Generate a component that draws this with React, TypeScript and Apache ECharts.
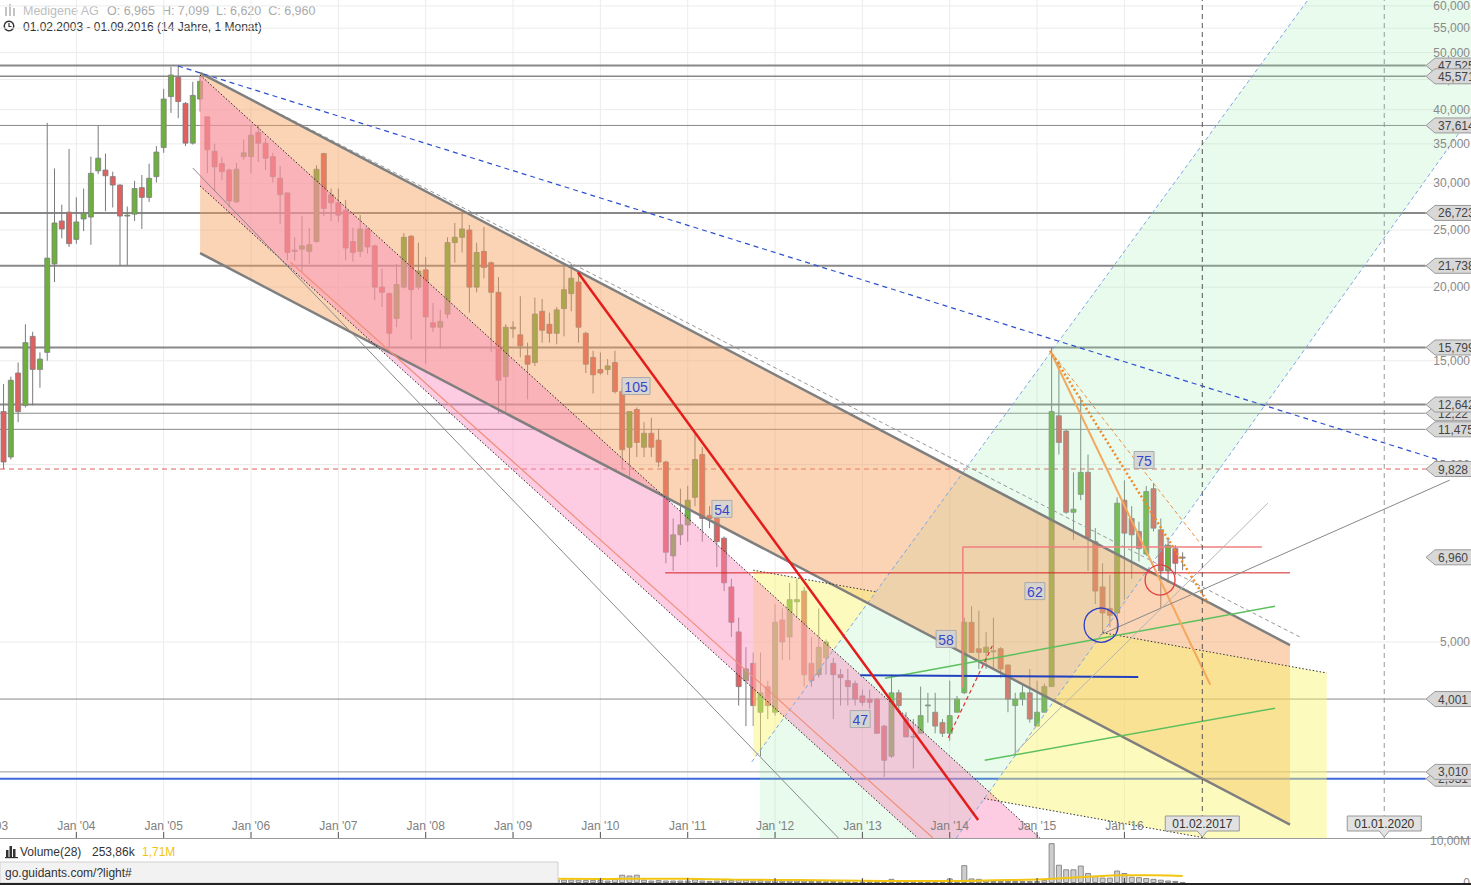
import React, { useEffect, useRef } from "react";
import * as echarts from "echarts";

const FONT = "'Liberation Sans', Arial, Helvetica, sans-serif";

// ---------- axis ranges (x = month index, Jan 2003 = 0) ----------
const X_MIN = 1.511;
const X_MAX = 203.62;
const P_MIN = 2.325;
const P_MAX = 61.4;
const VOL_MAX = 10.36;

// ---------- monthly candles, Feb 2003 .. Sep 2016 ----------
const FIRST_MONTH = 1;
const opens = [
  11.5, 12.3, 10.3, 14.3, 12.6, 16.5, 14.5, 15.5, 21.9, 25.9, 26.8,
  24.1, 26.1, 26.3, 31.5, 31.6, 30.8, 29.8, 26.4, 26.6, 29.5, 28.4, 30.8,
  34.5, 42.1, 45.4, 41.0, 35.1, 41.7, 38.9, 34.0, 32.4, 31.6, 27.9, 33.3,
  33.3, 36.6, 35.1, 33.3, 30.6, 28.9, 23.0, 23.2, 23.0, 23.9, 33.7, 28.7,
  27.8, 27.0, 23.9, 23.0, 25.1, 23.5, 20.0, 19.5, 17.7, 20.0, 24.4, 20.0,
  21.4, 17.4, 17.1, 18.0, 23.8, 24.3, 25.0, 20.0, 23.0, 22.0, 19.6, 14.1,
  17.0, 16.6, 15.3, 14.9, 18.2, 17.3, 16.7, 18.4, 19.5, 20.4, 16.7, 15.2,
  14.5, 14.5, 14.9, 13.3, 10.7, 12.4, 10.7, 11.3, 11.0, 10.1, 7.0, 7.6,
  7.9, 8.8, 10.4, 8.2, 8.1, 7.5, 6.2, 5.2, 4.3, 4.6, 3.8, 4.2,
  3.8, 5.45, 5.1, 5.85, 6.1, 4.6, 4.4, 4.7, 4.6, 4.4, 4.3, 4.25,
  4.05, 4.0, 4.0, 3.6, 3.2, 4.1, 3.7, 3.45, 3.5, 3.9, 3.8, 3.65,
  3.5, 3.8, 4.1, 5.4, 4.87, 4.8, 4.82, 4.87, 4.57, 3.9, 4.0, 4.1,
  3.6, 3.8, 4.2, 12.1, 11.4, 8.3, 8.9, 9.7, 7.4, 6.2, 5.7, 5.6,
  8.7, 8.1, 7.7, 7.05, 9.1, 7.75, 6.6, 7.2, 6.965,
];
const highs = [
  12.8, 13.7, 14.1, 14.9, 17.3, 16.8, 15.5, 38.0, 31.8, 27.6, 34.3,
  28.4, 29.4, 33.3, 37.6, 33.7, 31.4, 29.9, 27.4, 30.3, 31.0, 32.4, 34.7,
  43.4, 47.3, 47.525, 41.2, 44.6, 45.571, 38.9, 35.0, 33.2, 31.8, 32.5, 35.6,
  37.6, 37.6, 35.8, 33.8, 32.1, 28.9, 24.3, 26.4, 25.2, 32.2, 33.8, 29.4,
  29.4, 28.1, 25.2, 26.5, 25.2, 23.6, 21.5, 19.6, 21.9, 24.7, 24.5, 23.8,
  22.5, 18.8, 18.3, 24.3, 25.7, 26.7, 25.5, 23.8, 25.3, 22.1, 20.8, 17.3,
  17.5, 19.3, 16.1, 19.2, 19.1, 18.1, 18.5, 21.8, 21.9, 21.2, 16.8, 15.6,
  15.5, 15.1, 15.6, 13.5, 12.3, 12.5, 11.8, 12.0, 11.5, 10.15, 8.1, 9.1,
  9.2, 11.3, 10.7, 8.5, 8.4, 7.55, 6.4, 5.5, 4.9, 4.8, 4.8, 4.3,
  5.8, 5.7, 6.3, 6.4, 6.2, 5.1, 5.7, 5.05, 4.7, 4.5, 4.5, 4.3,
  4.15, 4.15, 4.02, 3.62, 4.4, 4.15, 3.8, 3.7, 4.2, 4.1, 4.1, 3.7,
  4.3, 4.05, 5.5, 5.75, 5.65, 5.2, 5.5, 4.9, 4.58, 4.1, 4.25, 4.5,
  4.3, 4.25, 15.8, 15.0, 11.45, 9.7, 13.0, 10.4, 7.8, 6.8, 6.5, 8.8,
  9.4, 8.5, 8.0, 9.2, 9.3, 8.1, 7.5, 7.3, 7.099,
];
const lows = [
  10.8, 9.83, 10.2, 11.8, 12.5, 12.6, 13.5, 15.0, 20.4, 24.2, 23.4,
  23.7, 24.9, 23.6, 31.1, 26.9, 27.3, 21.74, 21.8, 25.9, 25.1, 27.9, 30.1,
  33.8, 39.5, 38.7, 34.7, 34.9, 39.7, 31.2, 29.1, 30.4, 27.3, 27.8, 32.9,
  31.2, 32.6, 31.6, 30.1, 25.6, 22.2, 22.2, 21.2, 21.9, 23.8, 26.4, 25.9,
  25.8, 22.2, 22.1, 22.5, 22.8, 19.0, 18.5, 15.8, 17.1, 19.9, 16.3, 19.8,
  14.8, 16.8, 15.7, 17.7, 22.0, 22.9, 18.1, 19.6, 20.7, 15.5, 12.2, 12.2,
  16.4, 15.2, 12.9, 14.7, 16.1, 16.1, 16.0, 16.5, 18.2, 16.1, 14.3, 13.2,
  14.2, 14.2, 13.2, 9.83, 9.5, 10.3, 10.3, 10.3, 9.9, 6.8, 6.6, 7.3,
  7.4, 8.5, 7.4, 7.8, 6.7, 6.1, 5.1, 3.9, 3.6, 3.6, 3.2, 3.7,
  3.75, 4.66, 4.66, 5.5, 4.2, 4.2, 4.35, 4.4, 3.7, 3.9, 3.9, 3.9,
  3.9, 3.85, 3.5, 2.95, 3.18, 3.8, 3.45, 3.05, 3.5, 3.65, 3.5, 3.45,
  3.4, 3.8, 4.08, 4.8, 4.5, 4.5, 4.5, 4.35, 3.8, 3.2, 3.9, 3.65,
  3.6, 3.8, 4.2, 10.4, 8.25, 7.45, 8.7, 6.6, 5.8, 5.2, 5.3, 5.2,
  5.9, 6.4, 6.85, 7.0, 7.7, 5.7, 6.3, 6.5, 6.62,
];
const closes = [
  12.3, 10.1, 13.9, 12.3, 16.1, 14.5, 15.1, 22.4, 25.7, 25.1, 23.7,
  25.8, 26.7, 31.2, 33.1, 30.9, 29.8, 26.4, 26.5, 29.4, 28.4, 30.6, 33.9,
  41.7, 45.8, 41.3, 35.1, 42.3, 44.7, 34.2, 32.0, 31.4, 28.0, 31.7, 33.8,
  36.2, 35.1, 33.1, 30.8, 28.7, 22.9, 23.1, 23.5, 23.6, 31.7, 27.2, 27.8,
  26.5, 23.3, 22.9, 25.1, 23.4, 20.0, 19.6, 16.7, 20.2, 24.3, 19.8, 21.3,
  17.8, 17.1, 17.5, 23.8, 24.3, 25.1, 20.0, 22.9, 21.6, 19.6, 13.9, 17.1,
  17.1, 15.9, 14.8, 18.0, 16.9, 16.7, 18.3, 19.8, 20.7, 17.1, 14.8, 14.2,
  14.3, 14.7, 13.3, 10.6, 12.3, 10.9, 11.3, 10.7, 10.1, 7.1, 7.6, 7.9,
  8.7, 10.2, 8.1, 8.1, 7.4, 6.3, 5.4, 4.2, 4.5, 3.9, 4.1, 3.9,
  5.4, 5.0, 5.9, 5.9, 4.4, 4.3, 4.9, 5.0, 4.4, 4.35, 4.2, 4.0,
  3.95, 3.95, 3.5, 3.15, 4.1, 3.9, 3.45, 3.46, 3.75, 3.91, 3.6, 3.5,
  3.75, 4.0, 5.4, 4.8, 4.8, 4.9, 4.83, 4.5, 4.0, 4.0, 4.1, 3.7,
  3.8, 4.2, 12.3, 10.9, 8.3, 8.4, 9.7, 7.5, 6.1, 5.6, 5.55, 8.6,
  7.65, 7.6, 7.2, 9.0, 7.8, 6.6, 7.3, 6.8, 6.96,
];

// ---------- volume (millions), Jul 2009 .. Sep 2016 ----------
const VOL_FIRST_MONTH = 78;
const volumes = [
  0.8, 0.8, 0.8, 0.8, 0.7, 0.7,
  0.7, 0.6, 1.0, 2.0, 1.8, 2.0, 0.8, 0.6, 0.7, 0.6, 0.6, 0.6,
  0.6, 0.9, 0.6, 0.5, 0.6, 0.7, 0.7, 0.9, 0.8, 0.6, 0.7, 0.6,
  0.7, 0.6, 0.6, 0.6, 0.6, 0.5, 0.5, 0.4, 0.5, 0.4, 0.4, 0.3,
  0.4, 0.4, 0.4, 0.4, 1.0, 0.5, 0.3, 0.3, 0.4, 0.3, 0.3, 0.3,
  1.1, 0.4, 4.3, 1.1, 1.0, 0.6, 0.5, 0.5, 0.5, 0.5, 0.5, 0.5,
  0.5, 0.7, 9.6, 4.4, 3.3, 3.3, 4.2, 2.4, 1.7, 1.3, 1.3, 3.0,
  2.4, 1.5, 1.4, 1.2, 1.0, 0.8, 0.6, 0.5, 0.25,
];
const volMaMonths = [78, 84, 90, 96, 102, 108, 114, 120, 126, 132, 138, 144, 150, 156, 160, 164];
const volMa = [1.0, 0.95, 1.05, 1.0, 0.85, 0.75, 0.65, 0.55, 0.5, 0.5, 0.65, 0.85, 1.4, 1.85, 1.85, 1.71];

// ---------- axis ticks ----------
const yearTickMonths = [0, 12, 24, 36, 48, 60, 72, 84, 96, 108, 120, 132, 144, 156];
const yearTickLabels = ["Jan '03", "Jan '04", "Jan '05", "Jan '06", "Jan '07", "Jan '08", "Jan '09", "Jan '10", "Jan '11", "Jan '12", "Jan '13", "Jan '14", "Jan '15", "Jan '16"];
const priceTicks = [5, 10, 15, 20, 25, 30, 35, 40, 45, 50, 55, 60];

// ---------- horizontal levels ----------
const LEVEL_END = 197.4;
const levelValues = [47.525, 45.571, 37.614, 26.723, 21.738, 15.799, 12.642, 12.22, 11.475, 4.001, 3.01, 2.931];
const levelWidths = [2, 1.5, 1, 2, 2, 2, 2, 1, 1, 1, 1, 2];
const levelColors = ["#888", "#888", "#888", "#888", "#888", "#888", "#888", "#888", "#888", "#888", "#999", "#3d68d8"];
const redLevel = 9.828;

const tagValues = [47.525, 45.571, 37.614, 26.723, 21.738, 15.799, 12.22, 12.642, 11.475, 9.828, 6.96, 4.001, 2.931, 3.01];
const tagTexts = ["47,525", "45,571", "37,614", "26,723", "21,738", "15,799", "12,22", "12,642", "11,475", "9,828", "6,960", "4,001", "2,931", "3,010"];

// ---------- drawn annotations (month index, price) ----------
const peachChannel = [[29, 46.2], [178.75, 4.94], [178.75, 2.45], [29, 22.85]];
const peachUpper = [[29, 46.2], [178.75, 4.94]];
const peachLower = [[29, 22.85], [178.75, 2.45]];
const peachDashed = [[29, 46.2], [180.1, 5.1]];
const pinkBand = [[29, 45.8], [144.4, P_MIN], [127.6, P_MIN], [29, 29.7]];
const pinkUpper = [[29, 45.8], [144.4, P_MIN]];
const pinkLower = [[29, 29.7], [127.6, P_MIN]];
const pinkMid = [[41.4, 22.06], [129.7, P_MIN]];
const grayThin = [[28.0, 31.85], [116.7, P_MIN]];
const redTrend = [[80.9, 21.2], [135.9, 2.495]];
const blueDashed = [[25.97, 47.45], [203.6, 9.79]];
const mintBand = [[105.9, 3.27], [181.2, P_MAX], [X_MAX, P_MAX], [X_MAX, 39.0], [132.9, P_MIN], [105.9, P_MIN]];
const mintL1 = [[104.8, 3.13], [181.2, P_MAX]];
const mintL2 = [[132.9, P_MIN], [X_MAX, 39.0]];
const yellowLeft = [[105.0, 6.62], [121.9, 6.08], [105.3, 3.19], [105.0, 3.19]];
const yellowRight = [[153.0, 5.185], [183.8, 4.43], [183.8, P_MIN], [167.1, P_MIN], [136.7, 2.713]];
const yellowTopLeft = [[105.0, 6.62], [121.9, 6.08]];
const yellowTopRight = [[153.0, 5.185], [183.8, 4.43]];
const yellowBottom = [[136.7, 2.713], [167.1, P_MIN]];
const greenUpper = [[123.1, 4.34], [176.7, 5.75]];
const greenLower = [[136.8, 3.15], [176.7, 3.86]];
const blueFlat = [[119.7, 4.39], [157.9, 4.36]];
const redFlat = [[92.9, 6.55], [178.75, 6.55]];
const salmonStep = [[133.8, 4.18], [133.8, 7.25], [174.9, 7.25]];
const redDashShort = [[131.8, 3.44], [137.9, 4.94]];
const orangeSolid = [[145.8, 15.6], [167.8, 4.23]];
const orangeDotted = [[145.8, 15.6], [167.5, 5.82]];
const orangeDashed = [[145.8, 15.6], [166.8, 7.25]];
const grayFan1 = [[152.7, 5.14], [200.7, 9.41]];
const grayFan2 = [[140.7, 3.22], [175.7, 8.6]];
const circleCenters = [[152.8, 5.34], [160.9, 6.37]];
const circleRadius = [17, 15];
const circleColors = ["#2b3fc4", "#e04040"];
const numberLabelPos = [[88.9, 13.59], [100.7, 8.41], [119.7, 3.7], [131.5, 5.06], [143.7, 6.1], [158.7, 10.18]];
const numberLabels = ["105", "54", "47", "58", "62", "75"];
const dateMarkerMonths = [166.7, 191.7];
const dateMarkerLabels = ["01.02.2017", "01.01.2020"];
const dateMarkerColors = ["#555", "#999"];

const fmtPrice = (v: number) => v.toFixed(3).replace(".", ",");

function seg(data: any, color: string, width: number, type: any = "solid", z = 5) {
  return {
    type: "line", xAxisIndex: 0, yAxisIndex: 0, data, symbol: "none", silent: true, z,
    clip: true, lineStyle: { color, width, type }, emphasis: { disabled: true },
  };
}
function poly(pts: number[][], fill: string, z = 4) {
  return {
    type: "custom", xAxisIndex: 0, yAxisIndex: 0, data: pts, clip: true, silent: true, z,
    encode: { x: 0, y: 1 },
    renderItem: (params: any, api: any) =>
      params.dataIndex === 0
        ? { type: "polygon", shape: { points: pts.map((p) => api.coord(p)) }, style: { fill } }
        : { type: "group", children: [] },
  };
}

function buildOption() {
  const candleData = opens.map((o, i) => [FIRST_MONTH + i, o, closes[i], lows[i], highs[i]]);
  const volData = volumes.map((v, i) => [VOL_FIRST_MONTH + i, v]);
  const volMaData = volMaMonths.map((m, i) => [m, volMa[i]]);

  const series: any[] = [];

  // vertical year grid lines
  series.push({
    type: "custom", xAxisIndex: 0, yAxisIndex: 0, z: 1, silent: true, clip: true,
    data: yearTickMonths.map((m) => [m, P_MIN]), encode: { x: 0, y: 1 },
    renderItem: (params: any, api: any) => {
      const cs = params.coordSys;
      const p = api.coord([api.value(0), P_MIN]);
      return { type: "line", shape: { x1: p[0], y1: cs.y, x2: p[0], y2: cs.y + cs.height }, style: { stroke: "#ececec", lineWidth: 1 } };
    },
  });
  // horizontal price grid lines
  series.push({
    type: "custom", xAxisIndex: 0, yAxisIndex: 0, z: 1, silent: true, clip: true,
    data: priceTicks.map((v) => [X_MIN, v]), encode: { x: 0, y: 1 },
    renderItem: (params: any, api: any) => {
      const cs = params.coordSys;
      const p = api.coord([X_MIN, api.value(1)]);
      return { type: "line", shape: { x1: cs.x, y1: p[1], x2: cs.x + cs.width, y2: p[1] }, style: { stroke: "#ececec", lineWidth: 1 } };
    },
  });

  // horizontal level lines
  levelValues.forEach((v, i) => {
    series.push(seg([[X_MIN, v], [LEVEL_END, v]], levelColors[i], levelWidths[i], "solid", 2));
  });
  series.push(seg([[X_MIN, redLevel], [LEVEL_END, redLevel]], "#e06060", 1, [5, 4], 2));

  // candles
  series.push({
    type: "custom", xAxisIndex: 0, yAxisIndex: 0, z: 3, silent: true, clip: true,
    data: candleData, encode: { x: 0, y: [1, 2, 3, 4] },
    renderItem: (params: any, api: any) => {
      const x = api.value(0);
      const o = api.value(1), c = api.value(2), l = api.value(3), h = api.value(4);
      const pO = api.coord([x, o]), pC = api.coord([x, c]);
      const pL = api.coord([x, l]), pH = api.coord([x, h]);
      const up = c >= o;
      const top = Math.min(pO[1], pC[1]);
      const bh = Math.max(1, Math.abs(pO[1] - pC[1]));
      return {
        type: "group",
        children: [
          { type: "line", shape: { x1: pH[0], y1: pH[1], x2: pL[0], y2: pL[1] }, style: { stroke: "#7a7a7a", lineWidth: 1 } },
          { type: "rect", shape: { x: pO[0] - 2.5, y: top, width: 5, height: bh }, style: { fill: up ? "#6db03e" : "#e05f5f", stroke: "#7d7d7d", lineWidth: 0.8 } },
        ],
      };
    },
  });

  // translucent areas
  series.push(poly(mintBand, "rgba(150,235,175,0.22)", 4));
  series.push(poly(peachChannel, "rgba(245,160,90,0.45)", 4));
  series.push(poly(yellowLeft, "rgba(250,245,110,0.45)", 4));
  series.push(poly(yellowRight, "rgba(250,245,110,0.45)", 4));
  series.push(poly(pinkBand, "rgba(250,140,190,0.45)", 4));

  // trend lines
  series.push(seg(mintL1, "#7ea8e6", 1, [4, 3]));
  series.push(seg(mintL2, "#7ea8e6", 1, [4, 3]));
  series.push(seg(peachDashed, "#999", 1, [4, 3]));
  series.push(seg(peachUpper, "#7f7f7f", 2.5));
  series.push(seg(peachLower, "#7f7f7f", 2.5));
  series.push(seg(pinkUpper, "#222", 1, [1.5, 2]));
  series.push(seg(pinkLower, "#222", 1, [1.5, 2]));
  series.push(seg(pinkMid, "#f0907a", 1.2));
  series.push(seg(grayThin, "#8a8a8a", 1));
  series.push(seg(yellowTopLeft, "#333", 1, [1.5, 2]));
  series.push(seg(yellowTopRight, "#333", 1, [1.5, 2]));
  series.push(seg(yellowBottom, "#333", 1, [1.5, 2]));
  series.push(seg(greenUpper, "#5cc05c", 1.5));
  series.push(seg(greenLower, "#5cc05c", 1.5));
  series.push(seg(blueFlat, "#2040c0", 2));
  series.push(seg(redFlat, "#d42020", 1));
  series.push(seg(salmonStep, "#f08080", 1.5));
  series.push(seg(redDashShort, "#e03030", 1.2, [4, 3]));
  series.push(seg(redTrend, "#e41c1c", 2.5));
  series.push(seg(blueDashed, "#2d4fd0", 1.2, [5, 4]));
  series.push(seg(orangeSolid, "#f4a860", 2));
  series.push(seg(orangeDotted, "#ee8a2a", 2.5, [2, 2.5]));
  series.push(seg(orangeDashed, "#f09040", 1, [4, 3]));
  series.push(seg(grayFan1, "#888", 1));
  series.push(seg(grayFan2, "#b5b5b5", 1));
  dateMarkerMonths.forEach((m, i) => {
    series.push(seg([[m, P_MIN], [m, P_MAX]], dateMarkerColors[i], 1, [5, 4], 5));
  });

  // circles
  series.push({
    type: "custom", xAxisIndex: 0, yAxisIndex: 0, z: 6, silent: true, clip: true,
    data: circleCenters.map((c, i) => [c[0], c[1], i]), encode: { x: 0, y: 1 },
    renderItem: (params: any, api: any) => {
      const p = api.coord([api.value(0), api.value(1)]);
      const i = api.value(2);
      return { type: "circle", shape: { cx: p[0], cy: p[1], r: circleRadius[i] }, style: { fill: "none", stroke: circleColors[i], lineWidth: 1.3 } };
    },
  });

  // number boxes
  series.push({
    type: "custom", xAxisIndex: 0, yAxisIndex: 0, z: 6, silent: true, clip: true,
    data: numberLabelPos.map((c, i) => [c[0], c[1], i]), encode: { x: 0, y: 1 },
    renderItem: (params: any, api: any) => {
      const p = api.coord([api.value(0), api.value(1)]);
      const t = numberLabels[api.value(2)];
      const w = t.length * 8 + 4;
      const h = 17;
      return {
        type: "group",
        children: [
          { type: "rect", shape: { x: p[0] - w / 2, y: p[1] - h / 2, width: w, height: h }, style: { fill: "rgba(212,212,212,0.9)", stroke: "#aaa", lineWidth: 1 } },
          { type: "text", x: p[0], y: p[1] + 1, style: { text: t, fill: "#3548c8", fontSize: 14, fontFamily: FONT, align: "center", verticalAlign: "middle" } },
        ],
      };
    },
  });

  // x-axis year labels and ticks (inside the plot, above the axis line)
  series.push({
    type: "custom", xAxisIndex: 0, yAxisIndex: 0, z: 9, silent: true, clip: true,
    data: yearTickMonths.map((m, i) => [m, P_MIN, i]), encode: { x: 0, y: 1 },
    renderItem: (params: any, api: any) => {
      const cs = params.coordSys;
      const p = api.coord([api.value(0), P_MIN]);
      const b = cs.y + cs.height;
      return {
        type: "group",
        children: [
          { type: "line", shape: { x1: p[0], y1: b - 6, x2: p[0], y2: b }, style: { stroke: "#555", lineWidth: 1 } },
          { type: "text", x: p[0], y: b - 12, style: { text: yearTickLabels[api.value(2)], fill: "#808080", fontSize: 12, fontFamily: FONT, align: "center", verticalAlign: "middle" } },
        ],
      };
    },
  });

  // y-axis labels (inside right)
  series.push({
    type: "custom", xAxisIndex: 0, yAxisIndex: 0, z: 8, silent: true, clip: false,
    data: priceTicks.map((v) => [X_MAX, v]), encode: { x: 0, y: 1 },
    renderItem: (params: any, api: any) => {
      const cs = params.coordSys;
      const p = api.coord([X_MAX, api.value(1)]);
      return { type: "text", x: cs.x + cs.width - 1, y: p[1], style: { text: fmtPrice(api.value(1)), fill: "#8a8a8a", fontSize: 12, fontFamily: FONT, align: "right", verticalAlign: "middle" } };
    },
  });

  // price tags
  series.push({
    type: "custom", xAxisIndex: 0, yAxisIndex: 0, z: 10, silent: true, clip: false,
    data: tagValues.map((v, i) => [X_MAX, v, i]), encode: { x: 0, y: 1 },
    renderItem: (params: any, api: any) => {
      const cs = params.coordSys;
      const xr = cs.x + cs.width;
      const y = api.coord([X_MAX, api.value(1)])[1];
      const xl = xr - 45;
      return {
        type: "group",
        children: [
          { type: "polygon", shape: { points: [[xl, y], [xl + 9, y - 7.5], [xr + 3, y - 7.5], [xr + 3, y + 7.5], [xl + 9, y + 7.5]] }, style: { fill: "#d8d8d8", stroke: "#9a9a9a", lineWidth: 1 } },
          { type: "text", x: xl + 12, y: y + 0.5, style: { text: tagTexts[api.value(2)], fill: "#444", fontSize: 12, fontFamily: FONT, align: "left", verticalAlign: "middle" } },
        ],
      };
    },
  });

  // date markers at the bottom
  series.push({
    type: "custom", xAxisIndex: 0, yAxisIndex: 0, z: 10, silent: true, clip: false,
    data: dateMarkerMonths.map((m, i) => [m, P_MIN, i]), encode: { x: 0, y: 1 },
    renderItem: (params: any, api: any) => {
      const p = api.coord([api.value(0), P_MIN]);
      const b = p[1];
      const w = 74;
      return {
        type: "group",
        children: [
          { type: "polygon", shape: { points: [[p[0] - w / 2, b - 22], [p[0] + w / 2, b - 22], [p[0] + w / 2, b - 7], [p[0] + 5, b - 7], [p[0], b - 1], [p[0] - 5, b - 7], [p[0] - w / 2, b - 7]] }, style: { fill: "#e2e2e2", stroke: "#999", lineWidth: 1 } },
          { type: "text", x: p[0], y: b - 14.5, style: { text: dateMarkerLabels[api.value(2)], fill: "#333", fontSize: 12, fontFamily: FONT, align: "center", verticalAlign: "middle" } },
        ],
      };
    },
  });

  // volume panel
  series.push({
    type: "bar", xAxisIndex: 1, yAxisIndex: 1, data: volData, barWidth: 6, silent: true, z: 2,
    itemStyle: { color: "#cdcdcd", borderColor: "#8a8a8a", borderWidth: 1 },
  });
  series.push({
    type: "line", xAxisIndex: 1, yAxisIndex: 1, data: volMaData, symbol: "none", smooth: true, silent: true, z: 3,
    lineStyle: { color: "#f2c511", width: 2 },
  });
  series.push({
    type: "custom", xAxisIndex: 1, yAxisIndex: 1, z: 4, silent: true, clip: true,
    data: yearTickMonths.map((m) => [m, 0]), encode: { x: 0, y: 1 },
    renderItem: (params: any, api: any) => {
      const p = api.coord([api.value(0), 0]);
      return { type: "line", shape: { x1: p[0], y1: p[1] - 5, x2: p[0], y2: p[1] }, style: { stroke: "#444", lineWidth: 1 } };
    },
  });
  series.push({
    type: "custom", xAxisIndex: 1, yAxisIndex: 1, z: 5, silent: true, clip: false,
    data: [[X_MAX, 10, 0], [X_MAX, 0, 1]], encode: { x: 0, y: 1 },
    renderItem: (params: any, api: any) => {
      const cs = params.coordSys;
      const p = api.coord([X_MAX, api.value(1)]);
      return { type: "text", x: cs.x + cs.width - 1, y: p[1], style: { text: api.value(2) === 0 ? "10,00M" : "0", fill: "#8a8a8a", fontSize: 12, fontFamily: FONT, align: "right", verticalAlign: "middle" } };
    },
  });

  const graphic: any[] = [
    // header icon
    { type: "rect", shape: { x: 5, y: 7, width: 2, height: 9 }, style: { fill: "#c4c4c4" } },
    { type: "rect", shape: { x: 9, y: 4, width: 2, height: 12 }, style: { fill: "#c4c4c4" } },
    { type: "rect", shape: { x: 13, y: 8, width: 2, height: 8 }, style: { fill: "#c4c4c4" } },
    { type: "text", x: 23, y: 11, style: { text: "Medigene AG", fill: "#bdbdbd", fontSize: 12.5, fontFamily: FONT, verticalAlign: "middle" } },
    { type: "text", x: 107, y: 11, style: { text: "O: 6,965  H: 7,099  L: 6,620  C: 6,960", fill: "#a9a9a9", fontSize: 12.5, fontFamily: FONT, verticalAlign: "middle" } },
    // clock icon
    { type: "circle", shape: { cx: 9, cy: 26, r: 4.8 }, style: { fill: "none", stroke: "#333", lineWidth: 1.5 } },
    { type: "polyline", shape: { points: [[9, 23], [9, 26.5], [11.5, 26.5]] }, style: { fill: "none", stroke: "#333", lineWidth: 1.2 } },
    { type: "text", x: 23, y: 26.5, style: { text: "01.02.2003 - 01.09.2016 (14 Jahre, 1 Monat)", fill: "#333", fontSize: 12, fontFamily: FONT, verticalAlign: "middle" } },
    // volume header
    { type: "rect", shape: { x: 6, y: 850, width: 2.5, height: 7 }, style: { fill: "#333" } },
    { type: "rect", shape: { x: 9.5, y: 846, width: 2.5, height: 11 }, style: { fill: "#333" } },
    { type: "rect", shape: { x: 13, y: 849, width: 2.5, height: 8 }, style: { fill: "#333" } },
    { type: "rect", shape: { x: 5, y: 857, width: 13, height: 1.2 }, style: { fill: "#333" } },
    { type: "text", x: 20, y: 852, style: { text: "Volume(28)", fill: "#333", fontSize: 12, fontFamily: FONT, verticalAlign: "middle" } },
    { type: "text", x: 92, y: 852, style: { text: "253,86k", fill: "#333", fontSize: 12, fontFamily: FONT, verticalAlign: "middle" } },
    { type: "text", x: 142, y: 852, style: { text: "1,71M", fill: "#f2c511", fontSize: 12, fontFamily: FONT, verticalAlign: "middle" } },
    // status bar overlay
    { type: "rect", shape: { x: 0, y: 862, width: 558, height: 21 }, style: { fill: "#f2f2f2", stroke: "#cfcfcf", lineWidth: 1 }, z: 100 },
    { type: "text", x: 5, y: 873, style: { text: "go.guidants.com/?light#", fill: "#333", fontSize: 12, fontFamily: FONT, verticalAlign: "middle" }, z: 101 },
    { type: "rect", shape: { x: 0, y: 883, width: 1471, height: 2 }, style: { fill: "#222" }, z: 100 },
  ];

  return {
    animation: false,
    backgroundColor: "#ffffff",
    grid: [
      { left: 0, right: 0, top: 0, height: 838 },
      { left: 0, right: 0, top: 840, height: 43 },
    ],
    xAxis: [
      {
        type: "value", gridIndex: 0, min: X_MIN, max: X_MAX,
        axisLine: { show: true, onZero: false, lineStyle: { color: "#9a9a9a", width: 1 } },
        axisTick: { show: false }, axisLabel: { show: false }, splitLine: { show: false },
      },
      {
        type: "value", gridIndex: 1, min: X_MIN, max: X_MAX,
        axisLine: { show: false }, axisTick: { show: false }, axisLabel: { show: false }, splitLine: { show: false },
      },
    ],
    yAxis: [
      {
        type: "log", gridIndex: 0, min: P_MIN, max: P_MAX, position: "right",
        axisLine: { show: false }, axisTick: { show: false }, axisLabel: { show: false }, splitLine: { show: false },
      },
      {
        type: "value", gridIndex: 1, min: 0, max: VOL_MAX, position: "right",
        axisLine: { show: false }, axisTick: { show: false }, axisLabel: { show: false }, splitLine: { show: false },
      },
    ],
    series,
    graphic,
  };
}

export default function App() {
  const ref = useRef<HTMLDivElement>(null);
  useEffect(() => {
    if (!ref.current) return;
    const chart = echarts.init(ref.current, undefined, { renderer: "svg" });
    chart.setOption(buildOption() as any);
    return () => chart.dispose();
  }, []);
  return (
    <div
      ref={ref}
      style={{ position: "absolute", left: 0, top: 0, width: 1471, height: 885, background: "#fff" }}
    />
  );
}
